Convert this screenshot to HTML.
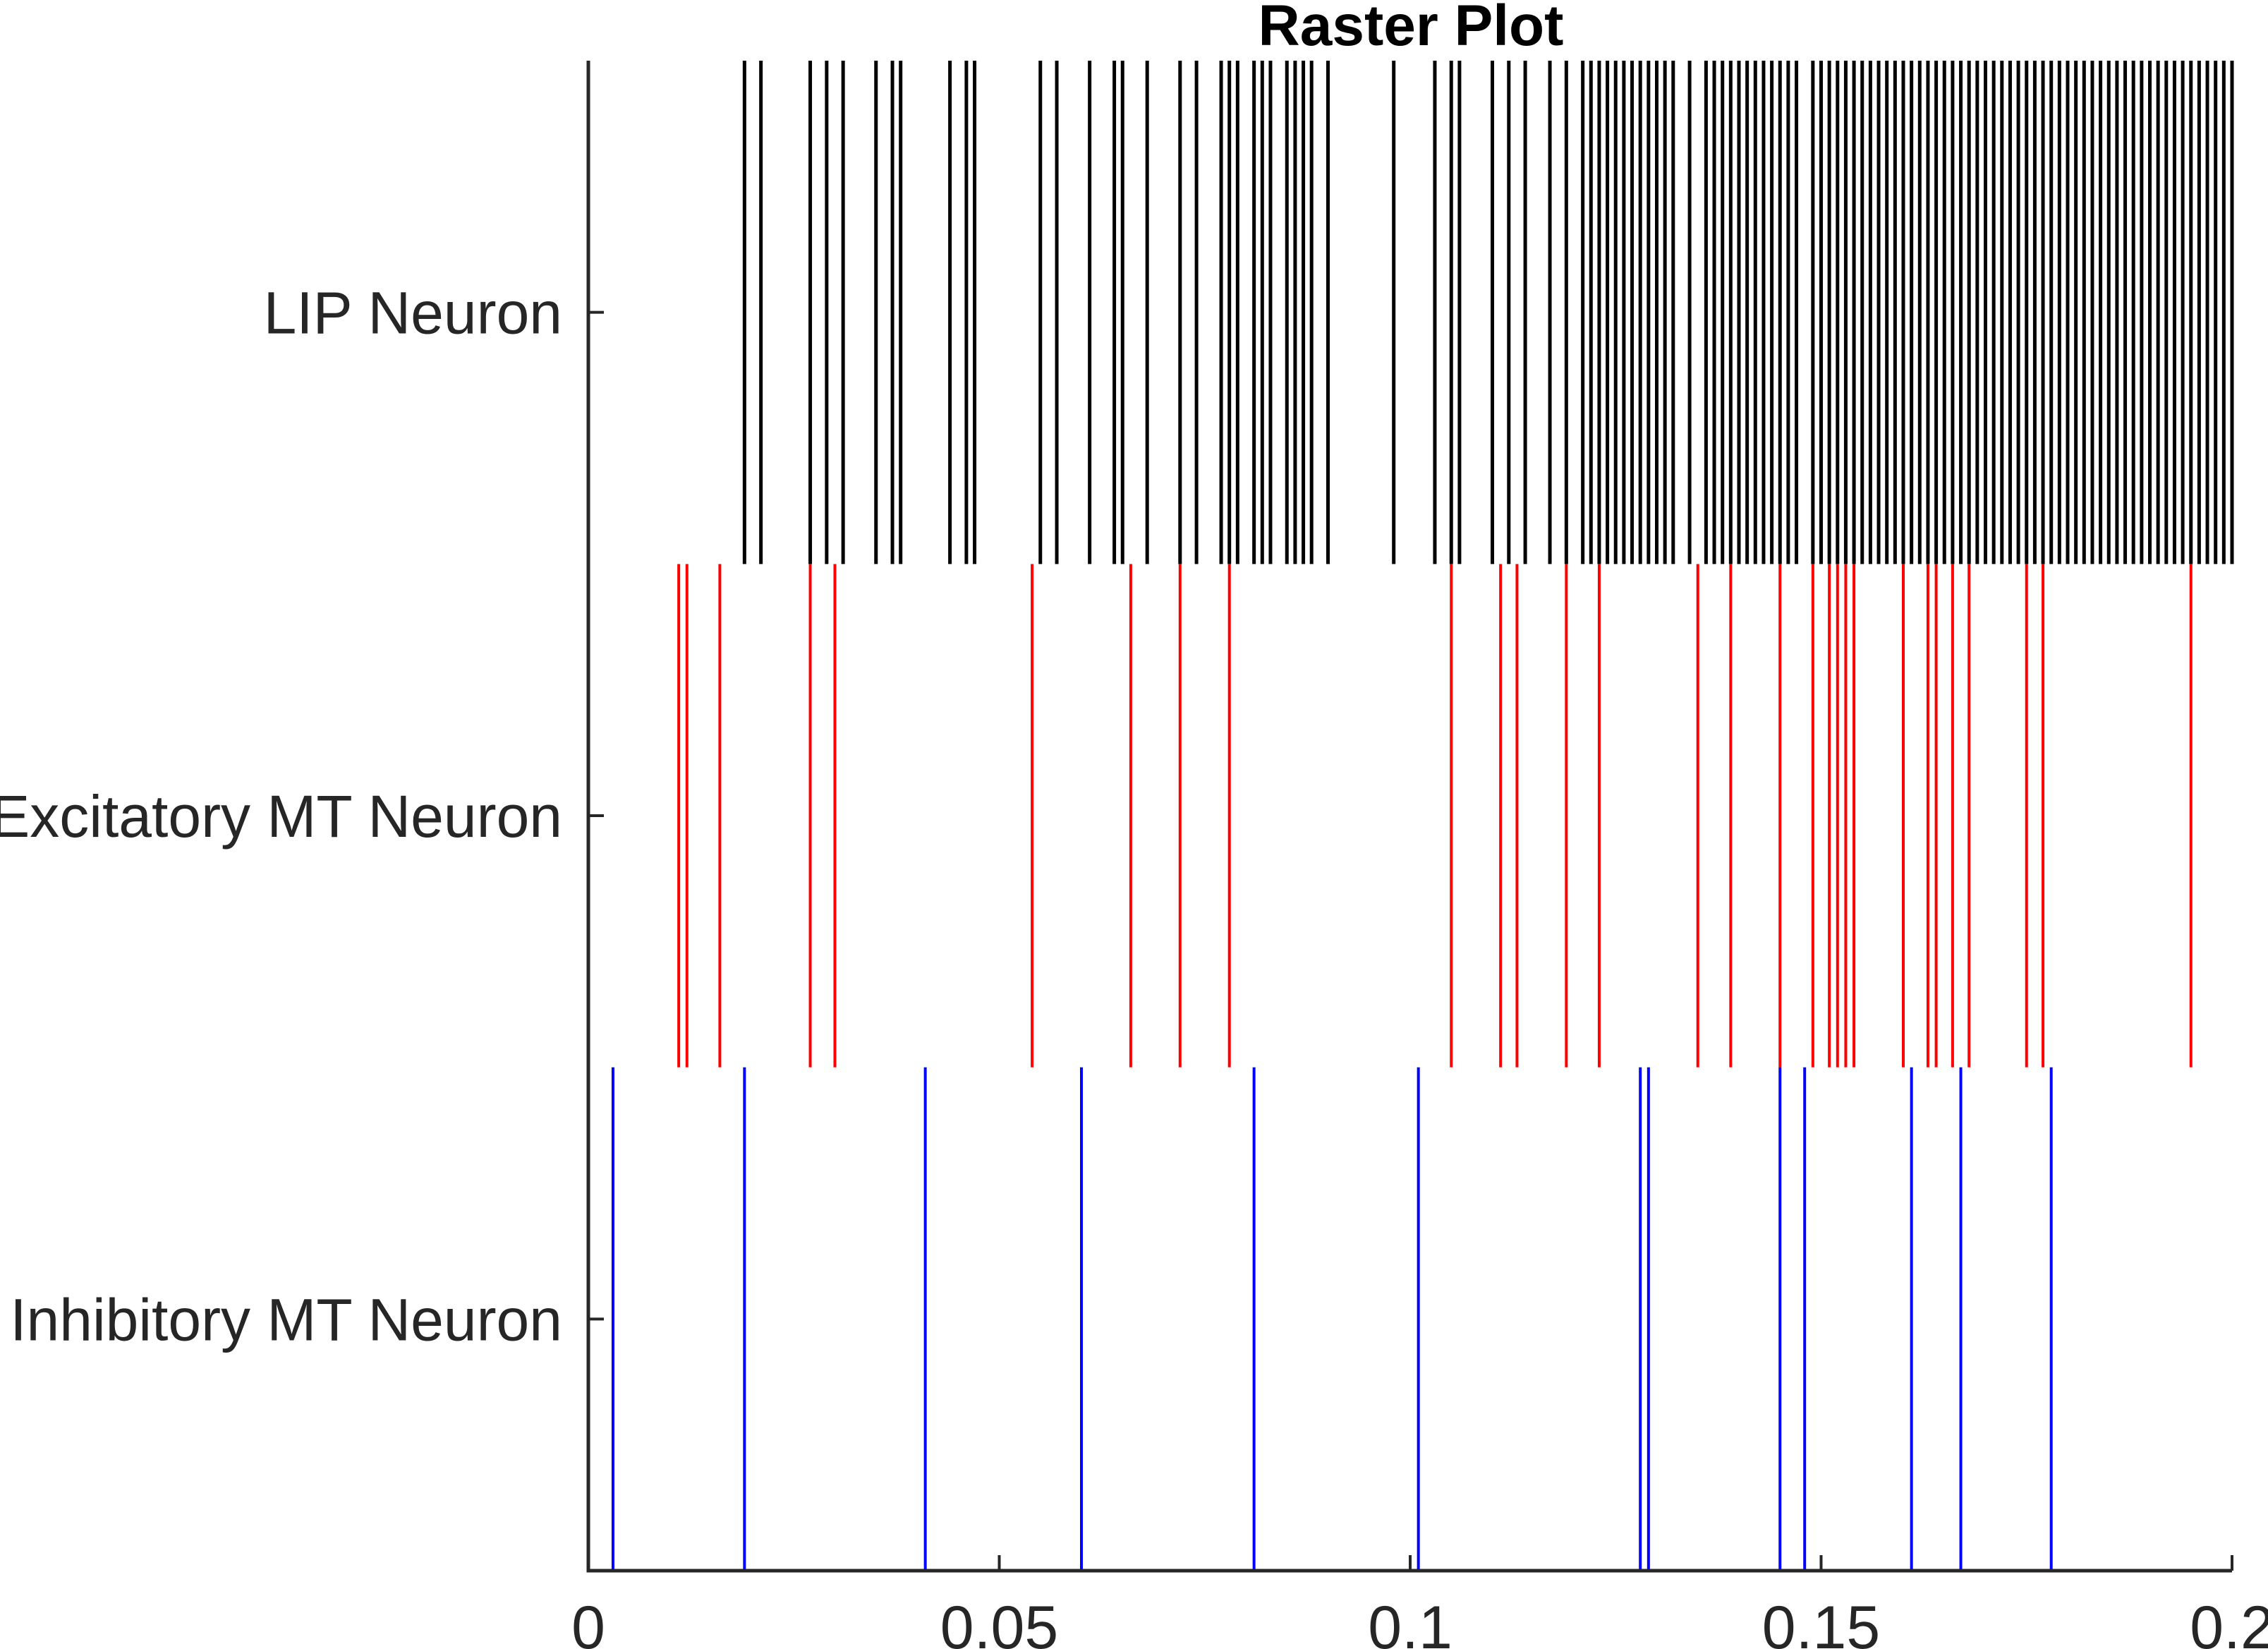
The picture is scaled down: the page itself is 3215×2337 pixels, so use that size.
<!DOCTYPE html>
<html><head><meta charset="utf-8"><style>
html,body{margin:0;padding:0;background:#fff;}
svg{display:block;}
</style></head><body>
<svg id="chart" width="3215" height="2337" viewBox="0 0 3215 2337" xmlns="http://www.w3.org/2000/svg" font-family="Liberation Sans, Arial, sans-serif">
<rect width="3215" height="2337" fill="#fff"/>
<g id="marks"></g>
<g id="axes"></g>
</svg>
<script>
const lipSpikes = [19,21,27,29,31,35,37,38,44,46,47,55,57,61,64,65,68,72,74,77,78,79,81,82,83,85,86,87,88,90,98,103,105,106,110,112,114,117,119,
121,122,123,124,125,126,127,128,129,130,131,132,134,136,137,138,139,140,141,142,143,144,145,146,147,
149,150,151,152,153,154,155,156,157,158,159,160,161,162,163,164,165,166,167,168,169,170,171,172,173,174,175,176,177,178,179,180,181,182,183,184,185,186,187,188,189,190,191,192,193,194,195,196,197,198,199,200];
const excSpikes = [11,12,16,27,30,54,66,72,78,105,111,113,119,123,135,139,145,149,151,152,153,154,160,163,164,166,168,175,177,195];
const inhSpikes = [3,19,41,60,81,101,128,129,145,148,161,167,178];
const rowNames = ["LIP Neuron","Excitatory MT Neuron","Inhibitory MT Neuron"];
const xTicks = [0,0.05,0.1,0.15,0.2];
const xTickLabels = ["0","0.05","0.1","0.15","0.2"];

const NS="http://www.w3.org/2000/svg";
const X0=834, X1=3164, YT=86, YB=2226;
const xMin=0, xMax=0.2, yMin=0.5, yMax=3.5;
function xs(v){return X0+(v-xMin)/(xMax-xMin)*(X1-X0);}
function ys(v){return YT+(v-yMin)/(yMax-yMin)*(YB-YT);}
function mk(tag,attrs,parent){const e=document.createElementNS(NS,tag);for(const k in attrs)e.setAttribute(k,attrs[k]);parent.appendChild(e);return e;}

const marks=document.getElementById('marks');
const axes=document.getElementById('axes');
const series=[[lipSpikes,'#000000','lip',5],[excSpikes,'#ff0000','exc',4],[inhSpikes,'#0000ff','inh',4]];
series.forEach(([arr,col,nm,w],i)=>{
  const g=mk('g',{},marks);
  
  
  arr.forEach(ms=>{
    const t=ms/1000;
    const l=mk('line',{x1:xs(t),x2:xs(t),y1:ys(i+0.5),y2:ys(i+1.5),stroke:col,'stroke-width':w},g);
    
    
  });
});

const ya=mk('line',{x1:X0,x2:X0,y1:YT,y2:YB+2.5,stroke:'#262626','stroke-width':5},axes);


const xa=mk('line',{x1:X0-2.5,x2:X1,y1:YB,y2:YB,stroke:'#262626','stroke-width':5},axes);



xTicks.forEach((v,i)=>{
  const tk=mk('line',{x1:xs(v),x2:xs(v),y1:YB,y2:YB-22,stroke:'#262626','stroke-width':4},axes);
  
  
  const tx=mk('text',{x:xs(v),y:2336,'text-anchor':'middle','font-size':86,fill:'#262626'},axes);
  tx.textContent=xTickLabels[i];
  
  
});
rowNames.forEach((n,i)=>{
  const y=ys(i+1);
  const tk=mk('line',{x1:X0,x2:X0+22,y1:y,y2:y,stroke:'#262626','stroke-width':4},axes);
  
  
  const tx=mk('text',{x:797,y:y+30,'text-anchor':'end','font-size':84,fill:'#262626'},axes);
  tx.textContent=n;
  
  
});
const title=mk('text',{x:2000,y:64,'text-anchor':'middle','font-size':82,'font-weight':'bold',fill:'#000'},axes);
title.textContent='Raster Plot';


</script>
</body></html>
